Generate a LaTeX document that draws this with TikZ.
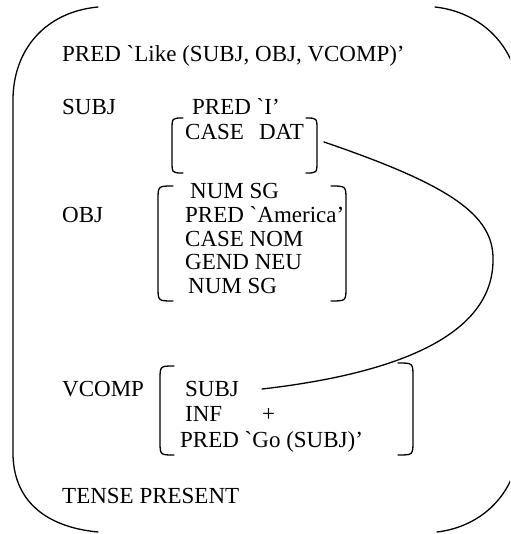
\documentclass[tikz,border=0pt]{standalone}
\usepackage{fontspec}
\setmainfont{Liberation Serif}[Ligatures=TeXOff]
\begin{document}
\begin{tikzpicture}[x=1pt,y=-1pt,
  txt/.style={anchor=base west, inner sep=0pt, font=\fontsize{23}{24}\selectfont},
  txte/.style={txt, anchor=base east},
  brk/.style={line width=1.3pt, line cap=round}]
\useasboundingbox (0,0) rectangle (510,534);
\clip (0,0) rectangle (510,534);

% outer f-structure brackets (the right one runs just past the edge)
\draw[brk] (98,7) .. controls (45,12) and (13,50) .. (13,100) -- (13,453)
  .. controls (13,500) and (45,527) .. (98,532);
\draw[brk] (435,7) .. controls (480,12) and (518,45) .. (520,100) -- (520,440)
  .. controls (518,495) and (480,527) .. (437,532);

% top level attributes
\node[txt] (pred)  at (62,62)    {PRED `Like (SUBJ, OBJ, VCOMP)’};
\node[txt] (subj)  at (62,115)   {SUBJ};
\node[txt] (obj)   at (62,222.5) {OBJ};
\node[txt] (vcomp) at (62,396)   {VCOMP};
\node[txt] (tense) at (62,503)   {TENSE PRESENT};

% SUBJ value
\node[txt]  (spred) at (192,115) {PRED `I’};
\node[txt]  (scase) at (185,140) {CASE};
\node[txte] (sdat)  at (304,140) {DAT};
\draw[brk] (183,118) .. controls (172,118) .. (172,130) -- (172,161) .. controls (172,173) .. (183,173);
\draw[brk] (306,118) .. controls (317,118) .. (317,130) -- (317,161) .. controls (317,173) .. (306,173);
\coordinate (subjr) at (324,142);

% OBJ value
\node[txt] (onum)  at (190,199)   {NUM SG};
\node[txt] (opred) at (185,222.5) {PRED `America’};
\node[txt] (ocase) at (185,246)   {CASE NOM};
\node[txt] (ogend) at (185,269.5) {GEND NEU};
\node[txt] (onum2) at (188,293)   {NUM SG};
\draw[brk] (173,186) .. controls (158,186) .. (158,200) -- (158,287) .. controls (158,301) .. (173,301);
\draw[brk] (331,186) .. controls (346,186) .. (346,200) -- (346,287) .. controls (346,301) .. (331,301);

% VCOMP value
\node[txt] (vsubj) at (185,396) {SUBJ};
\node[txt] (vinf)  at (185,421) {INF};
\node[txt] (vplus) at (262,421) {+};
\node[txt] (vpred) at (180,447) {PRED `Go (SUBJ)’};
\draw[brk] (174,366) .. controls (160,366) .. (160,380) -- (160,441) .. controls (160,455) .. (174,455);
\draw[brk] (398,363) .. controls (413,363) .. (413,377) -- (413,441) .. controls (413,455) .. (398,455);

% structure sharing link between the two SUBJ values
\draw[brk] (subjr) .. controls (450,185) and (494,215) .. (493,260)
  .. controls (493,330) and (410,372) .. ([xshift=23pt,yshift=7pt]vsubj.base east);
\end{tikzpicture}
\end{document}
